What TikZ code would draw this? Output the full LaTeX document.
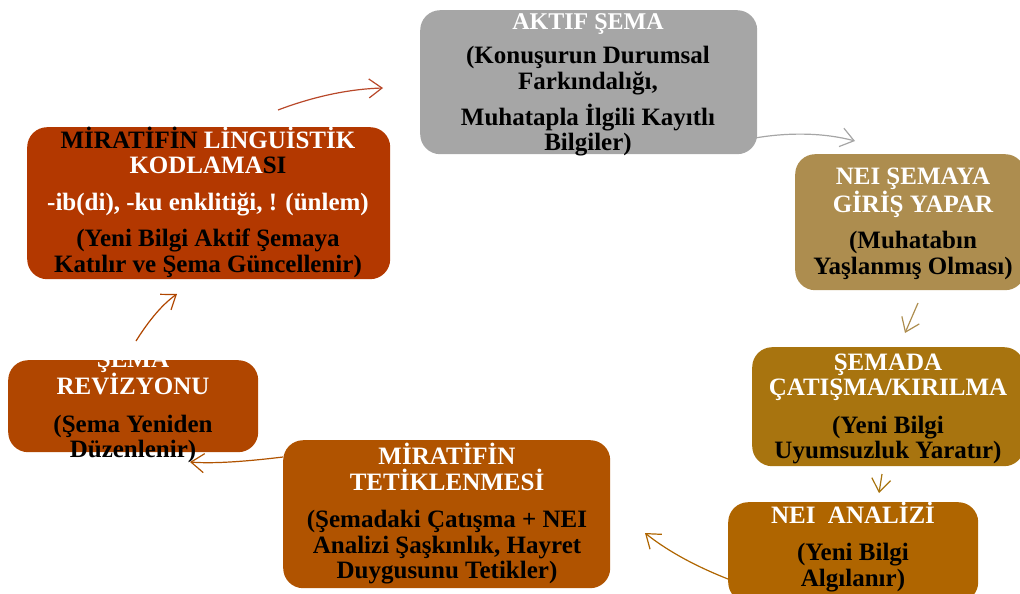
\documentclass[tikz,border=0pt]{standalone}
\usepackage{fontspec}
\setmainfont{Liberation Serif}
\usetikzlibrary{arrows.meta}
\definecolor{cGray}{HTML}{A6A6A6}
\definecolor{cTan}{HTML}{AD8D4F}
\definecolor{cGold}{HTML}{A8740F}
\definecolor{cAnal}{HTML}{AF6500}
\definecolor{cTet}{HTML}{B05300}
\definecolor{cRev}{HTML}{B04600}
\definecolor{cLing}{HTML}{B33800}
\definecolor{cLingArr}{HTML}{B8482A}
\begin{document}
\begin{tikzpicture}[x=1pt,y=-1pt,
  box/.style={rounded corners=20pt, draw=none, anchor=north west, inner sep=0pt},
  txt/.style={align=center, inner sep=0pt},
  fbig/.style={font=\bfseries\fontsize{25}{25.5}\selectfont},
  arr/.style={line width=1.2pt, -{Straight Barb[length=13pt,width=19pt,line width=1.2pt]}}]
\useasboundingbox (0,0) rectangle (1020,594);

% boxes
\node[box, fill=cGray, minimum width=337pt, minimum height=144pt] (b1) at (420,10) {};
\node[box, fill=cTan, minimum width=230pt, minimum height=136pt] (b2) at (795,154) {};
\node[box, fill=cGold, minimum width=272pt, minimum height=119pt] (b3) at (752,347) {};
\node[box, fill=cAnal, minimum width=250pt, minimum height=100pt] (b4) at (728,502) {};
\node[box, fill=cTet, minimum width=327pt, minimum height=148pt] (b5) at (283,440) {};
\node[box, fill=cRev, minimum width=250pt, minimum height=92pt] (b6) at (8,360) {};
\node[box, fill=cLing, minimum width=363pt, minimum height=152pt] (b7) at (27,127) {};

% texts
\node[txt, fbig] (t1) at (588,85)
  {\textcolor{white}{\fontsize{24}{24}\selectfont AKTIF ŞEMA}\\[9pt]
   (Konuşurun Durumsal\\ Farkındalığı,\\[8pt] Muhatapla İlgili Kayıtlı\\ Bilgiler)};
\node[txt, fbig] (t2) at (913,224)
  {\textcolor{white}{NEI ŞEMAYA}\\ \textcolor{white}{GİRİŞ YAPAR}\\[11pt]
   (Muhatabın\\ Yaşlanmış Olması)};
\node[txt, fbig] (t3) at (888,409)
  {\textcolor{white}{ŞEMADA}\\ \textcolor{white}{ÇATIŞMA/KIRILMA}\\[12pt]
   (Yeni Bilgi\\ Uyumsuzluk Yaratır)};
\node[txt, fbig] (t4) at (853,547)
  {\textcolor{white}{NEI~ ANALİZİ}\\[12pt] (Yeni Bilgi\\ Algılanır)};
\node[txt, fbig] (t5) at (447,514)
  {\textcolor{white}{MİRATİFİN}\\ \textcolor{white}{TETİKLENMESİ}\\[12pt]
   (Şemadaki Çatışma + NEI\\ Analizi Şaşkınlık, Hayret\\ Duygusunu Tetikler)};
\begin{scope}
\clip (0,357) rectangle (300,594);
\node[txt, fbig] (t6) at (133,407)
  {\textcolor{white}{ŞEMA}\\ \textcolor{white}{REVİZYONU}\\[12pt]
   (Şema Yeniden\\ Düzenlenir)};
\end{scope}
\node[txt, fbig] (t7) at (208,202)
  {MİRATİFİN \textcolor{white}{LİNGUİSTİK}\\ \textcolor{white}{KODLAMA}SI\\[11pt]
   \textcolor{white}{-ib(di), -ku enklitiği, ! (ünlem)}\\[11pt]
   (Yeni Bilgi Aktif Şemaya\\ Katılır ve Şema Güncellenir)};

% connector endpoints
\coordinate (s71) at (278,110); \coordinate (e71) at (383,88);
\coordinate (s12) at (755,138); \coordinate (e12) at (855,141);
\coordinate (s23) at (918,303); \coordinate (e23) at (905,333);
\coordinate (s34) at (882,474); \coordinate (e34) at (879,493);
\coordinate (s45) at (728,579); \coordinate (e45) at (645,533);
\coordinate (s56) at (283,457); \coordinate (e56) at (190,462);
\coordinate (s67) at (136,341); \coordinate (e67) at (177,294);

\draw[arr, cLingArr] (s71) .. controls (315,96) and (350,89) .. (e71);
\draw[arr, cGray] (s12) .. controls (790,132) and (825,133) .. (e12);
\draw[arr, cTan] (s23) -- (e23);
\draw[arr, cGold] (s34) -- (e34);
\draw[arr, cAnal] (s45) .. controls (700,568) and (670,553) .. (e45);
\draw[arr, cTet] (s56) .. controls (250,461) and (215,464) .. (e56);
\draw[arr, cRev] (s67) .. controls (146,325) and (160,306) .. (e67);
\end{tikzpicture}
\end{document}
